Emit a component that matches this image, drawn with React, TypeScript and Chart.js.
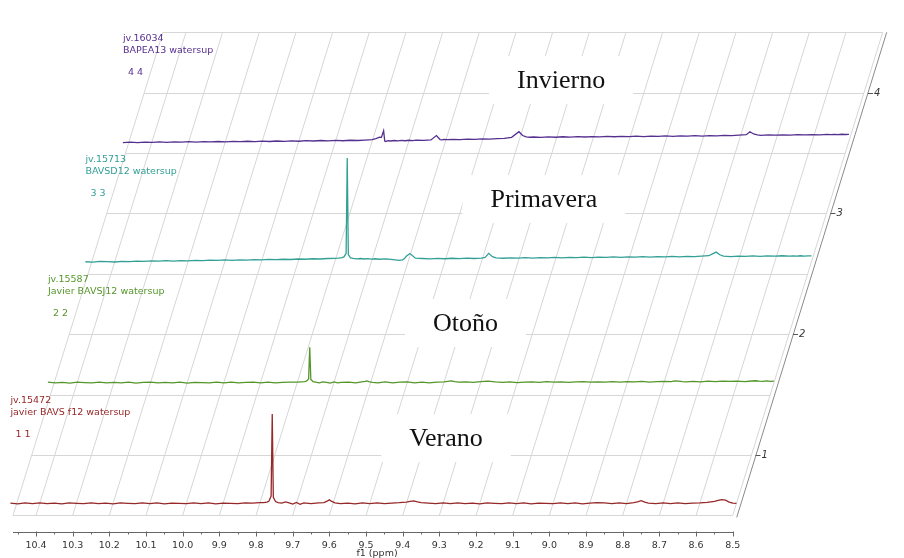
import React, { useEffect, useRef } from "react";
import { Chart, registerables } from "chart.js";

Chart.register(...registerables);

// chemical shift positions (ppm), shared by the four spectra
const PPM = [
  10.48, 10.46, 10.44, 10.42, 10.4, 10.38, 10.36, 10.34, 10.32, 10.3,
  10.28, 10.26, 10.24, 10.22, 10.2, 10.18, 10.16, 10.14, 10.12, 10.1,
  10.08, 10.06, 10.04, 10.02, 10.0, 9.98, 9.96, 9.94, 9.92, 9.9,
  9.88, 9.86, 9.84, 9.82, 9.8, 9.79, 9.78, 9.775, 9.769, 9.766,
  9.763, 9.757, 9.75, 9.74, 9.73, 9.72, 9.71, 9.7, 9.69, 9.68,
  9.66, 9.64, 9.625, 9.615, 9.61, 9.605, 9.595, 9.58, 9.56, 9.54,
  9.52, 9.5, 9.48, 9.46, 9.44, 9.42, 9.4, 9.39, 9.38, 9.37,
  9.36, 9.34, 9.32, 9.3, 9.28, 9.26, 9.24, 9.22, 9.2, 9.18,
  9.16, 9.14, 9.12, 9.1, 9.08, 9.06, 9.04, 9.02, 9.0, 8.98,
  8.96, 8.94, 8.92, 8.9, 8.88, 8.86, 8.84, 8.82, 8.8, 8.78,
  8.77, 8.76, 8.75, 8.74, 8.72, 8.7, 8.68, 8.66, 8.64, 8.62,
  8.6, 8.58, 8.56, 8.55, 8.54, 8.53, 8.52, 8.51, 8.5,
];

// intensities (stack units) above each spectrum's baseline
const VERANO = [
  0.002, -0.004, 0.003, -0.002, 0.004, -0.003, 0.001, -0.005, 0.003, 0.0,
  -0.003, 0.004, -0.002, 0.002, -0.004, 0.003, 0.0, -0.003, 0.004, -0.002,
  0.003, -0.004, 0.002, 0.0, -0.003, 0.004, -0.002, 0.003, -0.004, 0.002,
  0.0, -0.003, 0.004, 0.002, 0.005, 0.006, 0.01, 0.018, 0.06, 0.74,
  0.05, 0.015, 0.006, 0.002, 0.012, 0.004, -0.006, 0.008, -0.008, 0.003,
  -0.002, 0.003, 0.006, 0.02, 0.03, 0.018, 0.004, -0.003, 0.002, -0.004,
  0.003, -0.002, 0.004, -0.003, 0.002, 0.005, 0.01, 0.016, 0.02, 0.012,
  0.006, 0.002, -0.003, 0.003, -0.002, 0.004, -0.003, 0.002, -0.004, 0.003,
  0.0, -0.003, 0.004, -0.002, 0.003, -0.004, 0.002, 0.0, -0.003, 0.004,
  -0.002, 0.003, -0.004, 0.002, 0.005, 0.003, -0.002, 0.004, -0.003, 0.006,
  0.012, 0.022, 0.01, 0.002, -0.003, 0.003, -0.002, 0.004, -0.003, 0.002,
  0.004, 0.008, 0.016, 0.024, 0.03, 0.026, 0.01, 0.002, 0.0,
];
const OTONO = [
  0.003, -0.003, 0.002, -0.004, 0.003, 0.0, -0.002, 0.004, -0.003, 0.002,
  -0.002, 0.003, -0.004, 0.002, 0.004, -0.003, 0.002, -0.002, 0.003, -0.004,
  0.002, 0.0, -0.003, 0.004, -0.002, 0.003, -0.003, 0.002, 0.004, -0.002,
  0.003, -0.003, 0.002, 0.004, 0.003, 0.005, 0.007, 0.012, 0.03, 0.292,
  0.025, 0.008, 0.004, -0.002, 0.006, 0.002, -0.004, 0.005, -0.003, 0.002,
  0.004, -0.002, 0.005, 0.01, 0.014, 0.008, 0.002, -0.003, 0.006, -0.002,
  0.003, 0.005, -0.002, 0.003, -0.003, 0.004, 0.006, 0.01, 0.014, 0.008,
  0.004, 0.006, 0.001, 0.008, 0.012, 0.005, 0.002, 0.006, -0.001, 0.004,
  0.006, 0.002, 0.007, 0.003, 0.006, 0.001, 0.005, 0.008, 0.003, 0.006,
  0.004, 0.008, 0.003, 0.007, 0.005, 0.009, 0.004, 0.007, 0.01, 0.008,
  0.014, 0.012, 0.008, 0.006, 0.01, 0.006, 0.011, 0.007, 0.012, 0.009,
  0.011, 0.008, 0.013, 0.015, 0.012, 0.01, 0.013, 0.009, 0.012,
];
const PRIMAVERA = [
  0.0, -0.003, 0.003, 0.001, -0.002, 0.004, 0.002, 0.006, 0.003, 0.007,
  0.005, 0.009, 0.006, 0.01, 0.008, 0.012, 0.009, 0.013, 0.011, 0.015,
  0.012, 0.016, 0.014, 0.018, 0.015, 0.02, 0.017, 0.021, 0.019, 0.023,
  0.021, 0.025, 0.023, 0.027, 0.028, 0.03, 0.034, 0.04, 0.07, 0.86,
  0.06, 0.032, 0.028, 0.024, 0.027, 0.023, 0.026, 0.022, 0.025, 0.021,
  0.024, 0.018, 0.012, 0.016, 0.026, 0.045, 0.068, 0.03, 0.027, 0.024,
  0.028, 0.025, 0.029, 0.026, 0.03, 0.027, 0.031, 0.036, 0.07, 0.042,
  0.032, 0.029, 0.033, 0.03, 0.034, 0.031, 0.035, 0.032, 0.036, 0.033,
  0.037, 0.034, 0.038, 0.035, 0.039, 0.036, 0.04, 0.037, 0.041, 0.038,
  0.042, 0.039, 0.043, 0.04, 0.044, 0.041, 0.045, 0.042, 0.046, 0.05,
  0.065, 0.08, 0.058, 0.046, 0.043, 0.047, 0.044, 0.048, 0.045, 0.049,
  0.046, 0.05, 0.047, 0.049, 0.046, 0.05, 0.047, 0.049, 0.048,
];
const INVIERNO = [
  -0.014, -0.01, -0.013, -0.009, -0.012, -0.008, -0.011, -0.007, -0.01, -0.006,
  -0.009, -0.005, -0.008, -0.004, -0.007, -0.003, -0.006, -0.002, -0.005, -0.001,
  -0.004, 0.0, -0.003, 0.001, -0.002, 0.003, 0.0, 0.004, 0.001, 0.005,
  0.002, 0.006, 0.004, 0.008, 0.012, 0.02, 0.032, 0.03, 0.085, 0.0,
  -0.004, 0.002, 0.0, 0.004, 0.001, 0.005, 0.002, 0.006, 0.003, 0.007,
  0.005, 0.009, 0.045, 0.012, 0.01, 0.013, 0.011, 0.014, 0.012, 0.016,
  0.014, 0.018, 0.016, 0.02, 0.022, 0.03, 0.077, 0.045, 0.034, 0.031,
  0.033, 0.03, 0.034, 0.031, 0.035, 0.032, 0.036, 0.033, 0.037, 0.034,
  0.038, 0.035, 0.039, 0.036, 0.04, 0.037, 0.041, 0.038, 0.042, 0.039,
  0.043, 0.04, 0.044, 0.041, 0.045, 0.042, 0.046, 0.044, 0.048, 0.052,
  0.077, 0.058, 0.05, 0.047, 0.05, 0.048, 0.051, 0.049, 0.052, 0.05,
  0.053, 0.051, 0.054, 0.052, 0.055, 0.053, 0.056, 0.054, 0.055,
];

const SERIES = [VERANO, OTONO, PRIMAVERA, INVIERNO];
const SEASONS = ["Verano", "Otoño", "Primavera", "Invierno"];
const SAMPLE_IDS = ["jv.15472", "jv.15587", "jv.15713", "jv.16034"];
const SAMPLE_DESC = [
  "javier BAVS f12 watersup",
  "Javier BAVSJ12 watersup",
  "BAVSD12 watersup",
  "BAPEA13 watersup",
];
const SAMPLE_TAGS = ["1 1", "2 2", "3 3", "4 4"];
const COLORS = ["#962828", "#55962a", "#33a096", "#56308f"];

// season annotation anchors: [ppm, stack level]
const SEASON_PPM = [9.282, 9.229, 9.015, 8.968];
const SEASON_LEVEL = [1.141, 2.093, 3.119, 4.104];

const X_TICKS = [10.4, 10.3, 10.2, 10.1, 10.0, 9.9, 9.8, 9.7, 9.6, 9.5, 9.4, 9.3, 9.2, 9.1, 9.0, 8.9, 8.8, 8.7, 8.6, 8.5];
const X_MINOR = [10.45, 10.35, 10.25, 10.15, 10.05, 9.95, 9.85, 9.75, 9.65, 9.55, 9.45, 9.35, 9.25, 9.15, 9.05, 8.95, 8.85, 8.75, 8.65, 8.55];
const Y_TICKS = [1, 2, 3, 4];
const H_GRID = [0.5, 1, 1.5, 2, 2.5, 3, 3.5, 4, 4.5];

const X_LEFT = 10.4627;
const X_RIGHT = 8.5;
const Y_MIN = 0.5;
const Y_MAX = 4.5;
const SKEW = 0.10226; // ppm shift per stack level
const BASE = 0.6; // baseline offset of each spectrum within its level

const GRID = "#d6d6d6";

function stackPlugin() {
  return {
    id: "stack3d",
    beforeDatasetsDraw(chart: any) {
      const { ctx, scales } = chart;
      const x = scales.x;
      const y = scales.y;
      const xp = (ppm: number, lvl: number) => x.getPixelForValue(ppm - (lvl - Y_MIN) * SKEW);
      const yp = (lvl: number) => y.getPixelForValue(lvl);
      ctx.save();
      ctx.strokeStyle = GRID;
      ctx.lineWidth = 1;
      ctx.beginPath();
      for (const t of [X_LEFT, ...X_TICKS]) {
        ctx.moveTo(xp(t, Y_MIN), yp(Y_MIN));
        ctx.lineTo(xp(t, Y_MAX), yp(Y_MAX));
      }
      for (const l of H_GRID) {
        const py = Math.round(yp(l)) + 0.5;
        ctx.moveTo(xp(X_LEFT, l), py);
        ctx.lineTo(xp(X_RIGHT, l), py);
      }
      ctx.stroke();
      ctx.restore();
    },
    afterDatasetsDraw(chart: any) {
      const { ctx, scales, chartArea } = chart;
      const x = scales.x;
      const y = scales.y;
      const xp = (ppm: number, lvl: number) => x.getPixelForValue(ppm - (lvl - Y_MIN) * SKEW);
      const yp = (lvl: number) => y.getPixelForValue(lvl);
      ctx.save();

      // right slanted axis
      ctx.strokeStyle = "#8a8a8a";
      ctx.lineWidth = 1;
      ctx.beginPath();
      ctx.moveTo(xp(X_RIGHT, Y_MIN) + 4, yp(Y_MIN) + 2);
      ctx.lineTo(xp(X_RIGHT, Y_MAX) + 4, yp(Y_MAX));
      ctx.stroke();
      ctx.strokeStyle = "#555";
      ctx.fillStyle = "#333";
      ctx.font = "italic 10px 'DejaVu Sans'";
      ctx.textBaseline = "middle";
      ctx.textAlign = "left";
      for (const t of Y_TICKS) {
        const px = xp(X_RIGHT, t) + 4;
        const py = Math.round(yp(t)) + 0.5;
        ctx.beginPath();
        ctx.moveTo(px, py);
        ctx.lineTo(px + 5, py);
        ctx.stroke();
        ctx.fillText(String(t), px + 6, py);
      }

      // bottom axis
      const ay = Math.round(chartArea.bottom + 17) + 0.5;
      ctx.strokeStyle = "#666";
      ctx.beginPath();
      ctx.moveTo(x.getPixelForValue(X_LEFT), ay);
      ctx.lineTo(x.getPixelForValue(X_RIGHT) + 0.5, ay);
      for (const t of X_TICKS) {
        const px = Math.round(x.getPixelForValue(t)) + 0.5;
        ctx.moveTo(px, ay - 1);
        ctx.lineTo(px, ay + 4);
      }
      for (const t of X_MINOR) {
        const px = Math.round(x.getPixelForValue(t)) + 0.5;
        ctx.moveTo(px, ay);
        ctx.lineTo(px, ay + 2);
      }
      ctx.stroke();
      ctx.fillStyle = "#333";
      ctx.font = "9.5px 'DejaVu Sans'";
      ctx.textAlign = "center";
      ctx.textBaseline = "alphabetic";
      for (const t of X_TICKS) {
        ctx.fillText(t.toFixed(1), x.getPixelForValue(t), ay + 15.5);
      }
      ctx.fillText("f1 (ppm)", x.getPixelForValue(9.47), ay + 23);

      // sample labels
      SERIES.forEach((_, k) => {
        const lvl = k + BASE;
        const px = xp(PPM[0], lvl);
        const py = yp(lvl + 0.83);
        ctx.fillStyle = COLORS[k];
        ctx.font = "9.5px 'DejaVu Sans'";
        ctx.textAlign = "left";
        ctx.fillText(SAMPLE_IDS[k], px, py);
        ctx.fillText(SAMPLE_DESC[k], px, py + 12);
        ctx.fillText(SAMPLE_TAGS[k], px + 5, py + 34);
      });

      // season boxes
      ctx.font = "26px 'Liberation Serif', 'Times New Roman', serif";
      ctx.textAlign = "center";
      ctx.textBaseline = "middle";
      SEASONS.forEach((s, k) => {
        const cx = x.getPixelForValue(SEASON_PPM[k]);
        const cy = y.getPixelForValue(SEASON_LEVEL[k]);
        const w = ctx.measureText(s).width + 56;
        const h = 48;
        ctx.fillStyle = "#ffffff";
        ctx.fillRect(cx - w / 2, cy - h / 2, w, h);
        ctx.fillStyle = "#111";
        ctx.fillText(s, cx, cy + 1);
      });
      ctx.restore();
    },
  };
}

export default function App() {
  const ref = useRef<HTMLCanvasElement | null>(null);
  useEffect(() => {
    document.body.style.margin = "0";
    const canvas = ref.current;
    if (!canvas) return;
    const datasets = SERIES.map((vals, k) => ({
      label: SEASONS[k],
      data: PPM.map((p, i) => ({ x: p - (k + BASE - Y_MIN) * SKEW, y: k + BASE + vals[i] })),
      borderColor: COLORS[k],
      borderWidth: 1.3,
      pointRadius: 0,
      tension: 0,
      fill: false,
      clip: false as any,
    }));
    const chart = new Chart(canvas, {
      type: "line",
      data: { datasets },
      options: {
        animation: false,
        responsive: false,
        devicePixelRatio: 1,
        layout: { padding: { left: 13, right: 21.3, top: 32.3, bottom: 42.6 } },
        plugins: { legend: { display: false }, tooltip: { enabled: false } },
        scales: {
          x: { type: "linear", reverse: true, min: 8.091, max: X_LEFT, display: false },
          y: { type: "linear", min: Y_MIN, max: Y_MAX, display: false },
        },
      },
      plugins: [stackPlugin()],
    });
    return () => chart.destroy();
  }, []);
  return (
    <div style={{ width: 904, height: 558, background: "#fff" }}>
      <canvas ref={ref} width={904} height={558} style={{ display: "block" }} />
    </div>
  );
}
